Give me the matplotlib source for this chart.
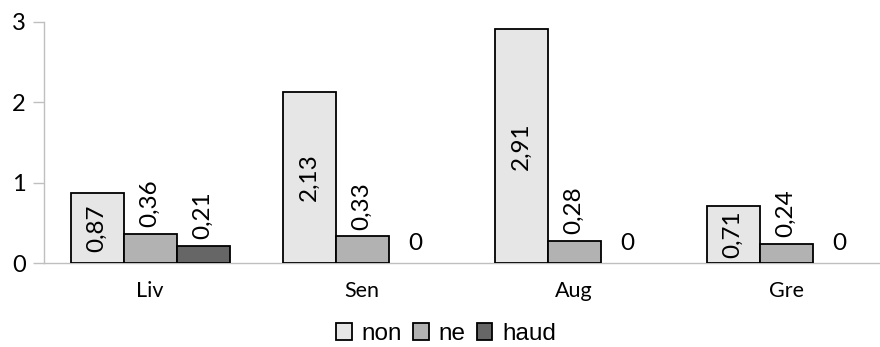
import numpy as np
import matplotlib
matplotlib.use("Agg")
import matplotlib.pyplot as plt

plt.rcParams['font.family'] = ['Lato', 'DejaVu Sans']

categories = ["Liv", "Sen", "Aug", "Gre"]
series_names = ["non", "ne", "haud"]
non_vals = [0.87, 2.13, 2.91, 0.71]
ne_vals = [0.36, 0.33, 0.28, 0.24]
haud_vals = [0.21, 0.0, 0.0, 0.0]
y_ticks = [0, 1, 2, 3]

series = [non_vals, ne_vals, haud_vals]
fills = ["#E6E6E6", "#B2B2B2", "#666666"]

W, H = 880, 347
fig = plt.figure(figsize=(W / 100, H / 100), dpi=100)
ax = fig.add_axes([44 / W, (H - 263) / H, 848 / W, 241 / H])

x = np.arange(len(categories))
bw = 0.25
offsets = [-bw, 0.0, bw]

for k, (vals, col, name) in enumerate(zip(series, fills, series_names)):
    xs = x + offsets[k]
    widths = [1.3 if v > 0 else 0.0 for v in vals]
    ax.bar(xs, vals, width=bw, color=col, edgecolor="black",
           linewidth=widths, label=name, zorder=3)
    for xi, v in zip(xs, vals):
        txt = f"{v:.2f}".replace(".", ",")
        if v == 0:
            ax.annotate("0", (xi, v), xytext=(0, 9.5), textcoords="offset points",
                        ha="center", va="baseline", fontsize=17.5)
        elif k == 0:
            ax.text(xi, v / 2, txt, rotation=90, ha="center", va="center",
                    fontsize=17.5, rotation_mode="anchor")
        else:
            ax.annotate(txt, (xi, v), xytext=(0, 5), textcoords="offset points",
                        ha="center", va="bottom", rotation=90, fontsize=17.5)

ax.set_xlim(-0.5, len(categories) - 0.5)
ax.set_ylim(0, 3)
ax.set_yticks(y_ticks)
ax.set_yticklabels([str(t) for t in y_ticks], fontsize=17)
ax.set_xticks(x)
ax.set_xticklabels(categories, fontsize=15.5)
ax.tick_params(axis="x", length=0, pad=13)
ax.tick_params(axis="y", length=8, width=1, color="#BFBFBF", pad=5)

for side in ["top", "right"]:
    ax.spines[side].set_visible(False)
for side in ["left", "bottom"]:
    ax.spines[side].set_color("#BFBFBF")
    ax.spines[side].set_linewidth(1)
    ax.spines[side].set_zorder(2)

leg = fig.legend(loc="center", bbox_to_anchor=(446 / W, 1 - 334 / H), ncol=3,
                 frameon=False, handlelength=0.65, handleheight=0.65,
                 handletextpad=0.4, columnspacing=0.45, borderpad=0,
                 prop={"family": "Liberation Sans", "size": 17.5})

fig.savefig("out.png", dpi=100)
